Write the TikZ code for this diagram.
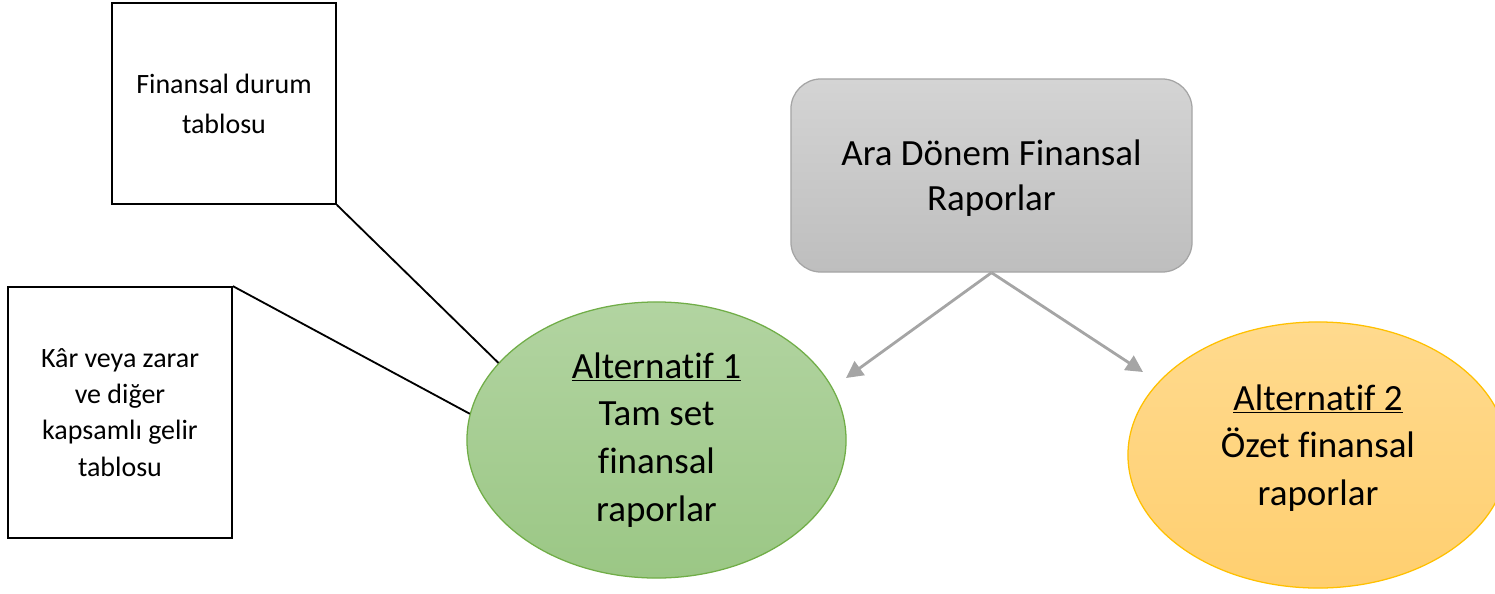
\documentclass[tikz,border=0pt]{standalone}
\usepackage{fontspec}
\setmainfont{Carlito}[Ligatures={NoCommon,NoContextual,NoRare}, RawFeature={-liga;-clig}]
\usetikzlibrary{shapes.geometric,arrows.meta}

\definecolor{greenfill}{HTML}{B2D4A1}
\definecolor{greenfilldark}{HTML}{9BC785}
\definecolor{greenline}{HTML}{70AD47}
\definecolor{orangefill}{HTML}{FFDA8E}
\definecolor{orangefilldark}{HTML}{FFCF70}
\definecolor{orangeline}{HTML}{FFC000}
\definecolor{grayfill}{HTML}{D4D4D4}
\definecolor{grayfilldark}{HTML}{BEBEBE}
\definecolor{grayline}{HTML}{A5A5A5}

\begin{document}
\begin{tikzpicture}[x=0.025cm, y=-0.025cm,
    tablebox/.style={draw=black, line width=1.2pt, minimum width=5.6cm,
        inner sep=0pt, align=center},
    altellipse/.style={ellipse, line width=0.9pt, inner sep=0pt, align=center,
        font=\fontsize{26.3}{34}\selectfont},
    link/.style={draw=black, line width=1.3pt},
    pointer/.style={draw=grayline, line width=2pt,
        -{Triangle[length=12pt,width=12pt]}}]

    \useasboundingbox (0,0) rectangle (1495,593);

    %% Ana kutu
    \node[draw=grayline, line width=0.9pt, rounded corners=0.75cm,
        top color=grayfill, bottom color=grayfilldark,
        minimum width=10.025cm, minimum height=4.825cm, align=center,
        font=\fontsize{26.3}{32}\selectfont, text depth=0pt] (ara) at (991.5,175.5)
        {Ara Dönem Finansal\\Raporlar};

    %% Alternatifler
    \node[altellipse, draw=greenline, top color=greenfill, bottom color=greenfilldark,
        minimum width=9.475cm, minimum height=6.9cm] (alt1) at (656.5,440)
        {\underline{Alternatif 1}\\Tam set\\finansal\\raporlar};
    \node[altellipse, draw=orangeline, top color=orangefill, bottom color=orangefilldark,
        minimum width=9.5cm, minimum height=6.65cm, text depth=0.5cm] (alt2) at (1318,455)
        {\underline{Alternatif 2}\\Özet finansal\\raporlar};

    %% Tablolar
    \node[tablebox, minimum height=5.025cm, font=\fontsize{19.9}{28.5}\selectfont]
        (durum) at (224,103.5) {Finansal durum\\tablosu};
    \node[tablebox, minimum height=6.275cm, font=\fontsize{19.9}{25.8}\selectfont]
        (karzarar) at (120,412.5) {Kâr veya zarar\\ve diğer\\kapsamlı gelir\\tablosu};

    %% Bağlantılar
    \draw[link] (durum.south east) -- (alt1.154);
    \draw[link] (karzarar.north east) -- (alt1.172);

    \coordinate (tip1) at (846,378);
    \coordinate (tip2) at (1143,372);
    \draw[pointer] (ara.south) -- (tip1);
    \draw[pointer] (ara.south) -- (tip2);

\end{tikzpicture}
\end{document}
